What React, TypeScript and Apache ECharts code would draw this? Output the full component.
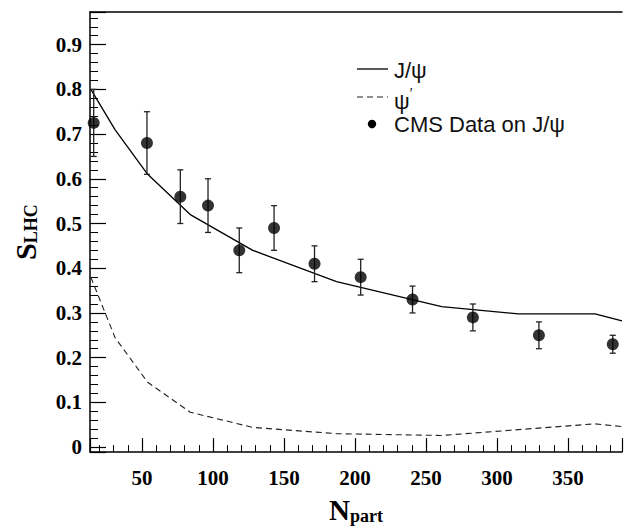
import React, { useEffect, useRef } from "react";
import * as echarts from "echarts";

// Theory curves (piecewise) vs N_part
const theoryN = [14, 31, 54, 84, 128, 187, 261, 315, 369, 388];
const jpsiTheory = [0.8, 0.71, 0.61, 0.52, 0.44, 0.37, 0.314, 0.298, 0.298, 0.282];
const psiPrimeTheory = [0.38, 0.245, 0.145, 0.078, 0.044, 0.03, 0.026, 0.039, 0.052, 0.046];

// CMS data on J/psi
const cmsN = [16, 53.5, 77, 96.5, 118.5, 143, 171.5, 204, 240.5, 283, 329.5, 381.5];
const cmsS = [0.725, 0.68, 0.56, 0.54, 0.44, 0.49, 0.41, 0.38, 0.33, 0.29, 0.25, 0.23];
const cmsErr = [0.075, 0.07, 0.06, 0.06, 0.05, 0.05, 0.04, 0.04, 0.03, 0.03, 0.03, 0.02];

const xMin = 13.4;
const xMax = 388;
const yMin = -0.0112;
const yMax = 0.973;

const serif = '"Liberation Serif", "Times New Roman", serif';
const sans = '"Liberation Sans", Arial, sans-serif';

export default function App() {
  const ref = useRef<HTMLDivElement>(null);
  useEffect(() => {
    if (!ref.current) return;
    const chart = echarts.init(ref.current, undefined, { renderer: "svg" });
    const tickLabelStyle = {
      fontFamily: serif,
      fontWeight: "bold" as const,
      fontSize: 21,
      color: "#000",
    };
    const option: any = {
      animation: false,
      backgroundColor: "#fff",
      grid: { left: 89, right: 0, top: 12, bottom: 62, containLabel: false },
      xAxis: [
        {
          type: "value",
          min: xMin,
          max: xMax,
          splitNumber: 8,
          name: "{n|N}{sub|part}",
          nameLocation: "middle",
          nameGap: 42,
          nameTextStyle: {
            rich: {
              n: { fontFamily: serif, fontWeight: "bold", fontSize: 29, lineHeight: 30, color: "#000" },
              sub: {
                fontFamily: serif,
                fontWeight: "bold",
                fontSize: 18,
                lineHeight: 18,
                verticalAlign: "bottom",
                padding: [14, 0, 0, 0],
                color: "#000",
              },
            },
          },
          axisLine: { show: true, onZero: false, lineStyle: { color: "#000", width: 1.5 } },
          axisTick: { show: true, inside: true, length: 14, lineStyle: { color: "#000", width: 1.2 } },
          minorTick: { show: true, splitNumber: 5, length: 7, lineStyle: { color: "#000", width: 1 } },
          axisLabel: {
            ...tickLabelStyle,
            margin: 15,
            formatter: (v: number) => {
              const r = Math.round(v / 50) * 50;
              return Math.abs(v - r) < 1e-6 ? String(r) : "";
            },
          },
          splitLine: { show: false },
        },
        {
          type: "value",
          position: "top",
          min: xMin,
          max: xMax,
          axisLine: { show: true, onZero: false, lineStyle: { color: "#000", width: 1.5 } },
          axisTick: { show: false },
          axisLabel: { show: false },
          splitLine: { show: false },
        },
      ],
      yAxis: {
        type: "value",
        min: yMin,
        max: yMax,
        splitNumber: 10,
        name: "{s|S}{sub|LHC}",
        nameLocation: "middle",
        nameGap: 50,
        nameTextStyle: {
          rich: {
            s: { fontFamily: serif, fontWeight: "bold", fontSize: 30, lineHeight: 30, color: "#000" },
            sub: {
              fontFamily: serif,
              fontWeight: "bold",
              fontSize: 18,
              lineHeight: 18,
              verticalAlign: "bottom",
              padding: [14, 0, 0, 0],
              color: "#000",
            },
          },
        },
        axisLine: { show: true, onZero: false, lineStyle: { color: "#000", width: 1.5 } },
        axisTick: { show: true, inside: true, length: 16, lineStyle: { color: "#000", width: 1.2 } },
        minorTick: { show: true, splitNumber: 5, length: 8, lineStyle: { color: "#000", width: 1 } },
        axisLabel: {
          ...tickLabelStyle,
          margin: 8,
          formatter: (v: number) => {
            const r = Math.round(v * 10) / 10;
            if (Math.abs(v - r) > 1e-6) return "";
            return r === 0 ? "0" : r.toFixed(1);
          },
        },
        splitLine: { show: false },
      },
      series: [
        {
          name: "J/ψ",
          type: "line",
          data: theoryN.map((n, i) => [n, jpsiTheory[i]]),
          showSymbol: false,
          lineStyle: { color: "#000", width: 1.3 },
          z: 2,
        },
        {
          name: "ψ'",
          type: "line",
          data: theoryN.map((n, i) => [n, psiPrimeTheory[i]]),
          showSymbol: false,
          lineStyle: { color: "#222", width: 1.1, type: [6, 4] },
          z: 2,
        },
        {
          name: "CMS errors",
          type: "custom",
          data: cmsN.map((n, i) => [n, cmsS[i] - cmsErr[i], cmsS[i] + cmsErr[i]]),
          encode: { x: 0, y: [1, 2] },
          renderItem: (params: any, api: any) => {
            const x = api.value(0);
            const lo = api.coord([x, api.value(1)]);
            const hi = api.coord([x, api.value(2)]);
            const w = 3;
            const style = { stroke: "#222", lineWidth: 1.3 };
            return {
              type: "group",
              children: [
                { type: "line", shape: { x1: lo[0], y1: lo[1], x2: hi[0], y2: hi[1] }, style },
                { type: "line", shape: { x1: lo[0] - w, y1: lo[1], x2: lo[0] + w, y2: lo[1] }, style },
                { type: "line", shape: { x1: hi[0] - w, y1: hi[1], x2: hi[0] + w, y2: hi[1] }, style },
              ],
            };
          },
          z: 3,
        },
        {
          name: "CMS Data on J/ψ",
          type: "scatter",
          data: cmsN.map((n, i) => [n, cmsS[i]]),
          symbol: "circle",
          symbolSize: 12,
          itemStyle: { color: "#000" },
          z: 4,
        },
      ],
      graphic: [
        { type: "line", shape: { x1: 357, y1: 69, x2: 388, y2: 69 }, style: { stroke: "#000", lineWidth: 1.3 } },
        {
          type: "text",
          x: 394,
          y: 70,
          style: { text: "J/ψ", font: `22px ${sans}`, lineHeight: 22, fill: "#111", verticalAlign: "middle" },
        },
        {
          type: "line",
          shape: { x1: 357, y1: 97, x2: 388, y2: 97 },
          style: { stroke: "#222", lineWidth: 1.1, lineDash: [6, 4] },
        },
        {
          type: "text",
          x: 394,
          y: 98,
          style: {
            text: "{a|ψ}{p|′}",
            verticalAlign: "middle",
            rich: {
              a: { font: `22px ${sans}`, fill: "#111", lineHeight: 24, padding: [6, 0, 0, 0] },
              p: { font: `14px ${sans}`, fill: "#111", lineHeight: 12, verticalAlign: "top" },
            },
          },
        },
        { type: "circle", shape: { cx: 372, cy: 124, r: 4.2 }, style: { fill: "#000" } },
        {
          type: "text",
          x: 394,
          y: 124,
          style: { text: "CMS Data on J/ψ", font: `22px ${sans}`, lineHeight: 22, fill: "#111", verticalAlign: "middle" },
        },
      ],
    };
    chart.setOption(option);
    return () => chart.dispose();
  }, []);
  return (
    <div
      ref={ref}
      style={{ position: "absolute", left: 0, top: 0, width: 625, height: 530, background: "#fff" }}
    />
  );
}
